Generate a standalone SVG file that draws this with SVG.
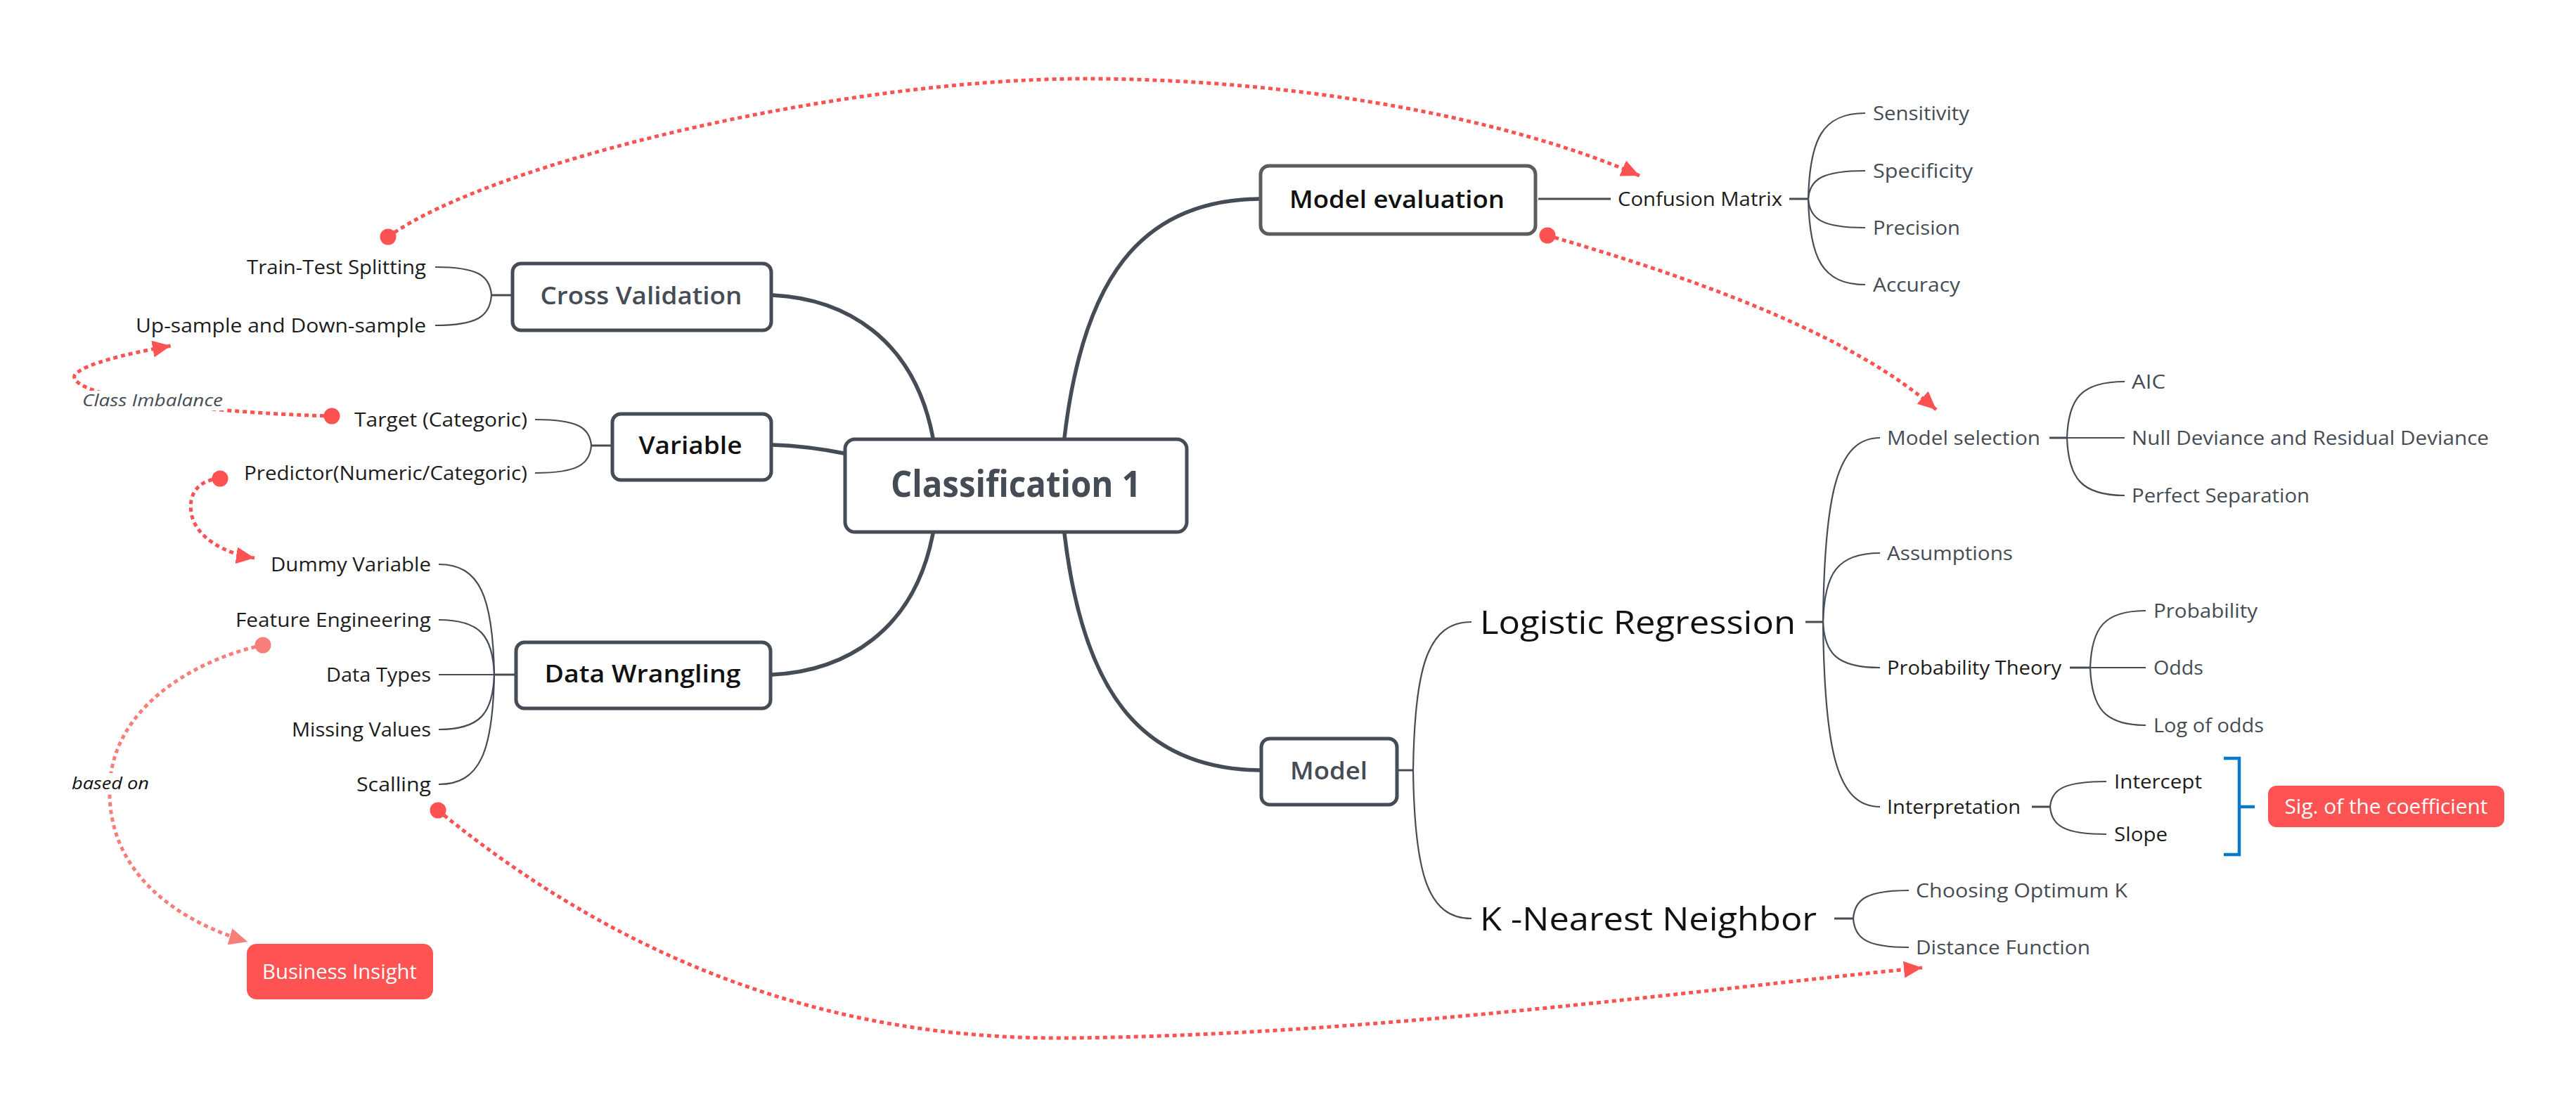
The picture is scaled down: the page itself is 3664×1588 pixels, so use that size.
<svg xmlns="http://www.w3.org/2000/svg" width="3664" height="1588" viewBox="0 0 3664 1588">
<style>
text{font-family:"Open Sans","Liberation Sans",sans-serif}
.leaf{font-size:28px;fill:#454c55}
.dk{fill:#1c1c1c}
.big{font-size:46px;fill:#111}
.topic{font-size:35px;font-weight:600;fill:#111}
.topic.g{fill:#454c55}
.br{fill:none;stroke:#454c55;stroke-width:2.2}
.stem{fill:none;stroke:#454c55;stroke-width:3}
.main{fill:none;stroke:#454c55;stroke-width:5.5;stroke-linecap:round}
.box{fill:#fff;stroke:#454c55;stroke-width:5}
.rel{fill:none;stroke:#fd5252;stroke-width:5;stroke-dasharray:6 5}
.rel.s{stroke:#f87f77}
.lbl{font-size:24px;font-style:italic}
.red{fill:#fd5353}
.wt{font-size:29px;fill:#fff}
</style>
<defs>
<marker id="arr" markerUnits="userSpaceOnUse" markerWidth="28" markerHeight="24" refX="26" refY="12" orient="auto"><path d="M0,0 L26,12 L0,24 z" fill="#fd5252"/></marker>
<marker id="dot" markerUnits="userSpaceOnUse" markerWidth="24" markerHeight="24" refX="12" refY="12"><circle cx="12" cy="12" r="11.5" fill="#fd5252"/></marker>
<marker id="arrS" markerUnits="userSpaceOnUse" markerWidth="28" markerHeight="24" refX="26" refY="12" orient="auto"><path d="M0,0 L26,12 L0,24 z" fill="#f87f77"/></marker>
<marker id="dotS" markerUnits="userSpaceOnUse" markerWidth="24" markerHeight="24" refX="12" refY="12"><circle cx="12" cy="12" r="11.5" fill="#f87f77"/></marker>
</defs>
<rect width="3664" height="1588" fill="#fff"/>

<g id="connectors">
<path class="main" d="M1327,623 C1300,480 1200,425 1099,420"/>
<path class="main" d="M1200,645 C1160,637 1130,634 1099,633"/>
<path class="main" d="M1327,759 C1300,900 1200,955 1098,960"/>
<path class="main" d="M1514,623 C1540,400 1620,285 1791,283"/>
<path class="main" d="M1514,759 C1540,980 1620,1094 1792,1096"/>

<path class="stem" d="M2188,283 H2291"/>
<path class="stem" d="M2545,283 H2572"/>
<path class="br" d="M2572,283 C2574,198 2592,161 2653,161"/>
<path class="br" d="M2572,283 C2574,255 2592,243 2653,243"/>
<path class="br" d="M2572,283 C2574,312 2592,324 2653,324"/>
<path class="br" d="M2572,283 C2574,368 2592,405 2653,405"/>

<path class="stem" d="M727,420 H699"/>
<path class="br" d="M699,420 C697,392 679,380 619,380"/>
<path class="br" d="M699,420 C697,450 679,463 619,463"/>

<path class="stem" d="M869,634 H841"/>
<path class="br" d="M841,634 C839,608 821,597 761,597"/>
<path class="br" d="M841,634 C839,661 821,673 761,673"/>

<path class="stem" d="M732,960 H703"/>
<path class="br" d="M703,960 C701,850 683,803 624,803"/>
<path class="br" d="M703,960 C701,905 683,882 624,882"/>
<path class="br" d="M703,960 H624"/>
<path class="br" d="M703,960 C701,1015 683,1038 624,1038"/>
<path class="br" d="M703,960 C701,1069 683,1116 624,1116"/>

<path class="stem" d="M1989,1096 H2010"/>
<path class="br" d="M2010,1096 C2012,948 2031,885 2093,885"/>
<path class="br" d="M2010,1096 C2012,1244 2031,1307 2093,1307"/>

<path class="stem" d="M2568,885 H2593"/>
<path class="br" d="M2593,885 C2595,702 2613,623 2674,623"/>
<path class="br" d="M2593,885 C2595,816 2613,787 2674,787"/>
<path class="br" d="M2593,885 C2595,930 2613,950 2674,950"/>
<path class="br" d="M2593,885 C2595,1069 2613,1148 2674,1148"/>

<path class="stem" d="M2915,623 H2940"/>
<path class="br" d="M2940,623 C2942,567 2960,543 3022,543"/>
<path class="br" d="M2940,623 H3022"/>
<path class="br" d="M2940,623 C2942,680 2960,705 3022,705"/>

<path class="stem" d="M2944,950 H2973"/>
<path class="br" d="M2973,950 C2975,893 2993,869 3052,869"/>
<path class="br" d="M2973,950 H3052"/>
<path class="br" d="M2973,950 C2975,1007 2993,1032 3052,1032"/>

<path class="stem" d="M2890,1148 H2916"/>
<path class="br" d="M2916,1148 C2918,1123 2936,1112 2996,1112"/>
<path class="br" d="M2916,1148 C2918,1175 2936,1187 2996,1187"/>

<path class="stem" d="M2609,1307 H2636"/>
<path class="br" d="M2636,1307 C2638,1279 2656,1267 2715,1267"/>
<path class="br" d="M2636,1307 C2638,1336 2656,1348 2715,1348"/>

<path d="M3163,1079 H3185 V1216 H3163 M3185,1148 H3207" fill="none" stroke="#0b78c9" stroke-width="4.5"/>
</g>

<g id="n-central"><rect class="box" x="1202" y="625" width="486" height="132" rx="14"/><text x="1445" y="707" text-anchor="middle" font-size="52" font-weight="700" fill="#454c55" textLength="356" lengthAdjust="spacingAndGlyphs">Classification 1</text></g>
<g id="n-crossval"><rect class="box" x="729" y="375" width="368" height="95" rx="12"/><text class="topic g" x="912" y="433" text-anchor="middle" textLength="287" lengthAdjust="spacingAndGlyphs">Cross Validation</text></g>
<g id="n-variable"><rect class="box" x="871" y="589" width="226" height="94" rx="12"/><text class="topic" x="982" y="646" text-anchor="middle" textLength="147" lengthAdjust="spacingAndGlyphs">Variable</text></g>
<g id="n-wrangling"><rect class="box" x="734" y="914" width="362" height="94" rx="12"/><text class="topic" x="914" y="971" text-anchor="middle" textLength="279" lengthAdjust="spacingAndGlyphs">Data Wrangling</text></g>
<g id="n-modeleval"><rect class="box" x="1793" y="236" width="391" height="97" rx="12" style="stroke:#5c5c5c"/><text class="topic" x="1987" y="296" text-anchor="middle" textLength="306" lengthAdjust="spacingAndGlyphs">Model evaluation</text></g>
<g id="n-model"><rect class="box" x="1794" y="1051" width="193" height="94" rx="12"/><text class="topic g" x="1890" y="1109" text-anchor="middle" font-weight="500" textLength="110" lengthAdjust="spacingAndGlyphs">Model</text></g>

<g id="n-traintest"><text class="leaf dk" x="606" y="390" text-anchor="end" textLength="255" lengthAdjust="spacingAndGlyphs">Train-Test Splitting</text></g>
<g id="n-upsample"><text class="leaf dk" x="606" y="473" text-anchor="end" textLength="413" lengthAdjust="spacingAndGlyphs">Up-sample and Down-sample</text></g>
<g id="n-target"><text class="leaf dk" x="750" y="607" text-anchor="end" textLength="246" lengthAdjust="spacingAndGlyphs">Target (Categoric)</text></g>
<g id="n-predictor"><text class="leaf dk" x="750" y="683" text-anchor="end" textLength="403" lengthAdjust="spacingAndGlyphs">Predictor(Numeric/Categoric)</text></g>
<g id="n-dummy"><text class="leaf dk" x="613" y="813" text-anchor="end" textLength="228" lengthAdjust="spacingAndGlyphs">Dummy Variable</text></g>
<g id="n-feature"><text class="leaf dk" x="613" y="892" text-anchor="end" textLength="278" lengthAdjust="spacingAndGlyphs">Feature Engineering</text></g>
<g id="n-datatypes"><text class="leaf dk" x="613" y="970" text-anchor="end" textLength="149" lengthAdjust="spacingAndGlyphs">Data Types</text></g>
<g id="n-missing"><text class="leaf dk" x="613" y="1048" text-anchor="end" textLength="198" lengthAdjust="spacingAndGlyphs">Missing Values</text></g>
<g id="n-scalling"><text class="leaf dk" x="613" y="1126" text-anchor="end" textLength="106" lengthAdjust="spacingAndGlyphs">Scalling</text></g>

<g id="n-confusion"><text class="leaf dk" x="2301" y="293" textLength="234" lengthAdjust="spacingAndGlyphs">Confusion Matrix</text></g>
<g id="n-sensitivity"><text class="leaf" x="2664" y="171" textLength="137" lengthAdjust="spacingAndGlyphs">Sensitivity</text></g>
<g id="n-specificity"><text class="leaf" x="2664" y="253" textLength="142" lengthAdjust="spacingAndGlyphs">Specificity</text></g>
<g id="n-precision"><text class="leaf" x="2664" y="334" textLength="124" lengthAdjust="spacingAndGlyphs">Precision</text></g>
<g id="n-accuracy"><text class="leaf" x="2664" y="415" textLength="124" lengthAdjust="spacingAndGlyphs">Accuracy</text></g>

<g id="n-logreg"><text class="big" x="2105" y="902" textLength="449" lengthAdjust="spacingAndGlyphs">Logistic Regression</text></g>
<g id="n-knn"><text class="big" x="2105" y="1324" textLength="479" lengthAdjust="spacingAndGlyphs">K -Nearest Neighbor</text></g>

<g id="n-modelsel"><text class="leaf" x="2684" y="633" textLength="218" lengthAdjust="spacingAndGlyphs">Model selection</text></g>
<g id="n-assumptions"><text class="leaf" x="2684" y="797" textLength="179" lengthAdjust="spacingAndGlyphs">Assumptions</text></g>
<g id="n-probtheory"><text class="leaf dk" x="2684" y="960" textLength="248" lengthAdjust="spacingAndGlyphs">Probability Theory</text></g>
<g id="n-interpretation"><text class="leaf dk" x="2684" y="1158" textLength="190" lengthAdjust="spacingAndGlyphs">Interpretation</text></g>
<g id="n-aic"><text class="leaf" x="3032" y="553" textLength="48" lengthAdjust="spacingAndGlyphs">AIC</text></g>
<g id="n-nulldev"><text class="leaf" x="3032" y="633" textLength="508" lengthAdjust="spacingAndGlyphs">Null Deviance and Residual Deviance</text></g>
<g id="n-perfsep"><text class="leaf" x="3032" y="715" textLength="253" lengthAdjust="spacingAndGlyphs">Perfect Separation</text></g>
<g id="n-probability"><text class="leaf" x="3063" y="879" textLength="148" lengthAdjust="spacingAndGlyphs">Probability</text></g>
<g id="n-odds"><text class="leaf" x="3063" y="960" textLength="71" lengthAdjust="spacingAndGlyphs">Odds</text></g>
<g id="n-logodds"><text class="leaf" x="3063" y="1042" textLength="157" lengthAdjust="spacingAndGlyphs">Log of odds</text></g>
<g id="n-intercept"><text class="leaf dk" x="3007" y="1122" textLength="125" lengthAdjust="spacingAndGlyphs">Intercept</text></g>
<g id="n-slope"><text class="leaf dk" x="3007" y="1197" textLength="76" lengthAdjust="spacingAndGlyphs">Slope</text></g>
<g id="n-choosingk"><text class="leaf" x="2725" y="1277" textLength="301" lengthAdjust="spacingAndGlyphs">Choosing Optimum K</text></g>
<g id="n-distance"><text class="leaf" x="2725" y="1358" textLength="248" lengthAdjust="spacingAndGlyphs">Distance Function</text></g>

<g id="n-sig"><rect class="red" x="3226" y="1118" width="336" height="59" rx="12"/><text class="wt" x="3394" y="1158" text-anchor="middle" font-size="28" textLength="289" lengthAdjust="spacingAndGlyphs">Sig. of the coefficient</text></g>
<g id="n-business"><rect class="red" x="351" y="1343" width="265" height="79" rx="14"/><text class="wt" x="483" y="1393" text-anchor="middle" textLength="220" lengthAdjust="spacingAndGlyphs">Business Insight</text></g>

<g id="relationships">
<path class="rel" d="M552,337 C700,230 1200,112 1542,112 C1850,112 2150,170 2332,250" marker-start="url(#dot)" marker-end="url(#arr)"/>
<path class="rel" d="M2201,335 C2401,393 2634,475 2754,583" marker-start="url(#dot)" marker-end="url(#arr)"/>
<path class="rel" d="M472,592 C380,590 250,580 170,565 C120,555 95,540 110,530 C125,518 170,505 243,492" marker-start="url(#dot)" marker-end="url(#arr)"/>
<path class="rel" d="M313,681 C280,683 268,705 272,730 C278,765 320,788 362,794" marker-start="url(#dot)" marker-end="url(#arr)"/>
<path class="rel s" d="M374,918 C290,935 160,1000 156,1120 C152,1240 250,1310 352,1340" marker-start="url(#dotS)" marker-end="url(#arrS)"/>
<path class="rel" d="M623,1153 C900,1380 1200,1480 1519,1477 C1950,1473 2400,1410 2734,1377" marker-start="url(#dot)" marker-end="url(#arr)"/>
<rect x="114" y="556" width="206" height="28" fill="#fff"/>
<text class="lbl" x="117" y="578" fill="#454c55" textLength="200" lengthAdjust="spacingAndGlyphs">Class Imbalance</text>
<rect x="99" y="1100" width="116" height="30" fill="#fff"/>
<text class="lbl" x="102" y="1123" fill="#111" textLength="110" lengthAdjust="spacingAndGlyphs">based on</text>
</g>
</svg>
